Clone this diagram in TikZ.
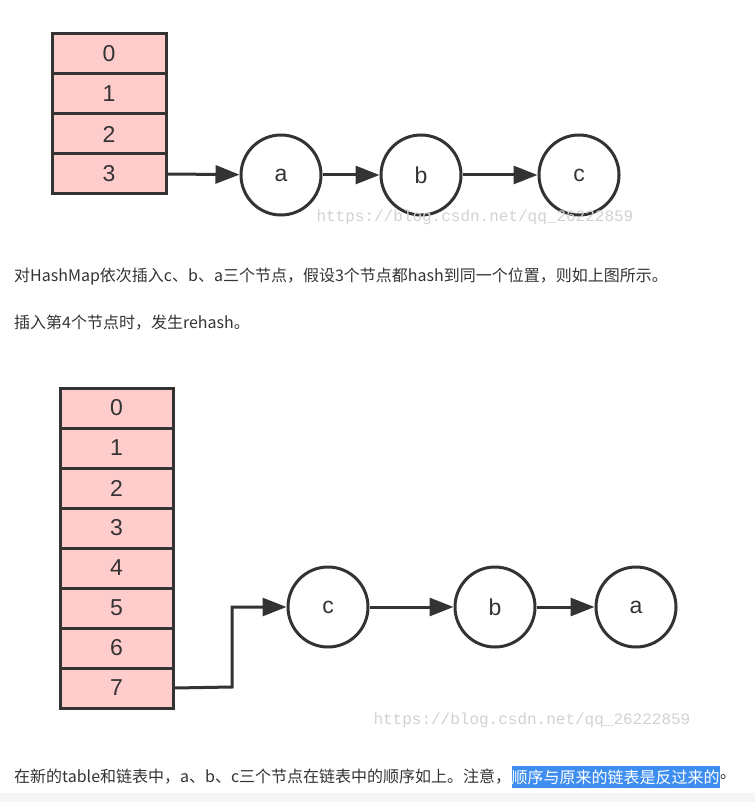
\documentclass[tikz,border=0pt]{standalone}
\usepackage{fontspec}
\setmainfont{Liberation Sans}
\newfontfamily\cjk{Noto Sans CJK SC}
\newfontfamily\wmfont{Liberation Mono}
\usetikzlibrary{arrows.meta}
\definecolor{cellpink}{HTML}{FFCCCC}
\definecolor{ink}{HTML}{333333}
\definecolor{hl}{HTML}{3D8EF0}
\tikzset{
 cell/.style={draw=ink,line width=3pt,fill=cellpink,minimum width=114pt,minimum height=40pt,inner sep=0pt,font=\fontsize{23}{23}\selectfont,text=ink},
 nd/.style={circle,draw=ink,line width=3pt,minimum size=80pt,inner sep=0pt,font=\fontsize{23}{23}\selectfont,text=ink},
 link/.style={draw=ink,line width=3pt,-{Triangle[length=24pt,width=18pt]}},
 wm/.style={font=\wmfont\fontsize{16}{16}\selectfont,text=black!18,anchor=west},
 para/.style={font=\cjk\fontsize{16}{16}\selectfont,text=ink,anchor=west,inner sep=0pt}
}
\begin{document}
\begin{tikzpicture}[x=1pt,y=-1pt]
\useasboundingbox (0,0) rectangle (755,802);
\fill[black!4] (0,793) rectangle (755,802);
% top table
\foreach \i in {0,...,3}{\node[cell] (t\i) at (109,54+40*\i) {\i};}
\node[nd] (a1) at (281,175) {a};
\node[nd] (b1) at (421,175) {b};
\node[nd] (c1) at (579,175) {c};
\draw[link] (t3.east) -- (a1);
\draw[link] (a1) -- (b1);
\draw[link] (b1) -- (c1);
\node[wm] (w1) at (313,217) {https://blog.csdn.net/qq\_26222859};
\node[para] (p1) at (14,277) {对HashMap依次插入c、b、a三个节点，假设3个节点都hash到同一个位置，则如上图所示。};
\node[para] (p2) at (14,323) {插入第4个节点时，发生rehash。};
% bottom table
\foreach \i in {0,...,7}{\node[cell,minimum width=113pt] (u\i) at (116.5,408+40*\i) {\i};}
\node[nd] (c2) at (328,607) {c};
\node[nd] (b2) at (495,607) {b};
\node[nd] (a2) at (636,607) {a};
\coordinate (k1) at (232,687);
\coordinate (k2) at (232,607);
\draw[link] (u7.east) -- (k1) -- (k2) -- (c2);
\draw[link] (c2) -- (b2);
\draw[link] (b2) -- (a2);
\node[wm] (w2) at (370,720) {https://blog.csdn.net/qq\_26222859};
\node[para] (p3) at (14,777) {在新的table和链表中，a、b、c三个节点在链表中的顺序如上。注意，};
\node[para,fill=hl,text=white,inner ysep=4pt,inner xsep=0pt] (p4) at (p3.east) {顺序与原来的链表是反过来的};
\node[para] (p5) at (p4.east) {。};
\end{tikzpicture}
\end{document}
